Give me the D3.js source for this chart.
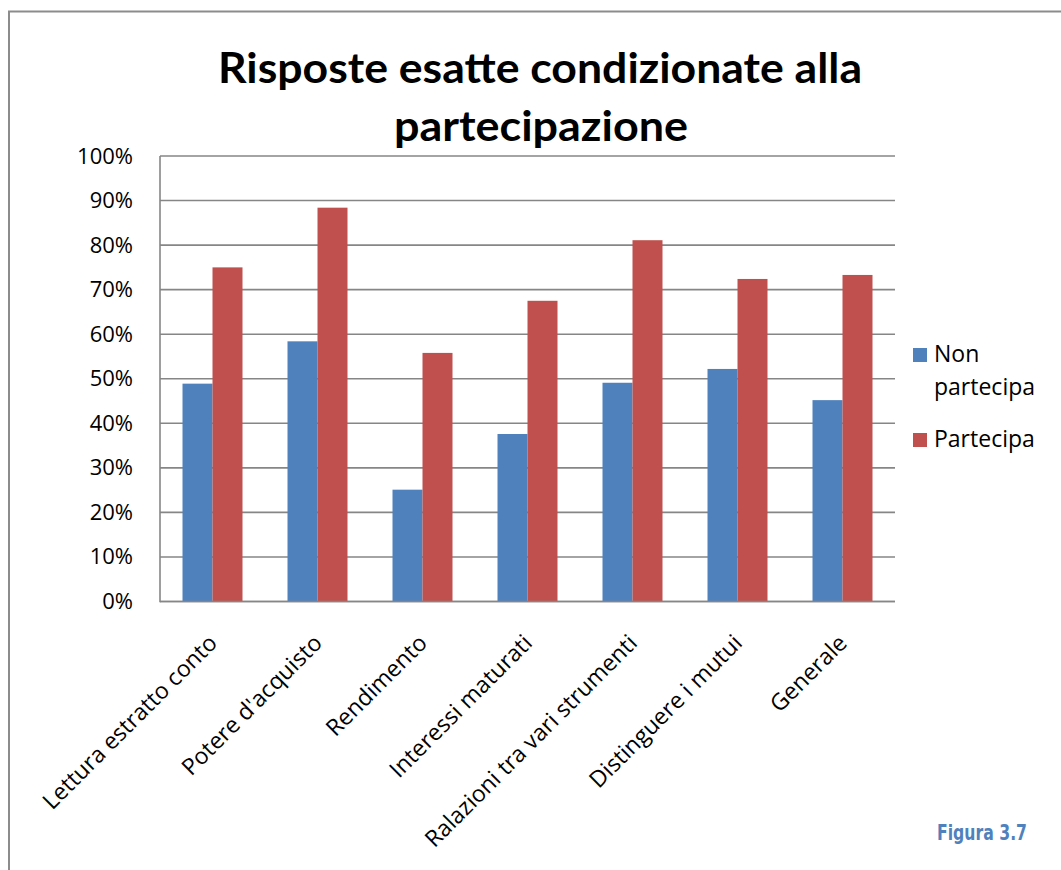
<!DOCTYPE html>
<html>
<head>
<meta charset="utf-8">
<script src="https://cdn.jsdelivr.net/npm/d3@7"></script>
<style>
  html, body { margin: 0; padding: 0; background: #fff; }
  svg { display: block; }
</style>
</head>
<body>
<svg id="chart" width="1061" height="870"></svg>
<script>
// Categories and series values (fractions of 1)
const categories = [
  "Lettura estratto conto",
  "Potere d'acquisto",
  "Rendimento",
  "Interessi maturati",
  "Ralazioni tra vari strumenti",
  "Distinguere i mutui",
  "Generale"
];
const seriesNames = ["Non partecipa", "Partecipa"];
const nonPartecipa = [0.489, 0.584, 0.251, 0.376, 0.491, 0.522, 0.452];
const partecipa    = [0.750, 0.884, 0.558, 0.675, 0.811, 0.724, 0.733];
const yTicks = [0, 0.1, 0.2, 0.3, 0.4, 0.5, 0.6, 0.7, 0.8, 0.9, 1.0];
const titleLines = ["Risposte esatte condizionate alla", "partecipazione"];
const figureLabel = "Figura 3.7";

const colors = ["#4f81bd", "#c0504d"];
const gridColor = "#868686";
const labelFont = "'Open Sans', 'Noto Sans', sans-serif";

const svg = d3.select("#chart");

// Outer frame
svg.append("path")
  .attr("d", "M9,870 V11.5 H1061")
  .attr("fill", "none")
  .attr("stroke", "#8c8c8c")
  .attr("stroke-width", 2);

// Title
const title = svg.append("g").attr("font-family", "Lato, 'Open Sans', sans-serif")
  .attr("font-weight", "bold").attr("fill", "#000");
title.append("text")
  .attr("x", 540).attr("y", 83)
  .attr("text-anchor", "middle")
  .attr("font-size", 42)
  .attr("textLength", 644).attr("lengthAdjust", "spacingAndGlyphs")
  .text(titleLines[0]);
title.append("text")
  .attr("x", 541).attr("y", 141)
  .attr("text-anchor", "middle")
  .attr("font-size", 42)
  .attr("textLength", 294).attr("lengthAdjust", "spacingAndGlyphs")
  .text(titleLines[1]);

// Plot area
const plot = { left: 160, right: 895, top: 156, bottom: 601.5 };

const x = d3.scaleBand()
  .domain(categories)
  .range([plot.left, plot.right])
  .paddingInner(45 / 105)
  .paddingOuter(22.5 / 105);

const xSub = d3.scaleBand()
  .domain(seriesNames)
  .range([0, x.bandwidth()]);

const y = d3.scaleLinear().domain([0, 1]).range([plot.bottom, plot.top]);

// Gridlines
svg.append("g")
  .selectAll("line")
  .data(yTicks)
  .join("line")
  .attr("x1", plot.left).attr("x2", plot.right)
  .attr("y1", d => y(d)).attr("y2", d => y(d))
  .attr("stroke", gridColor)
  .attr("stroke-width", 1.6);

// Bars
const rows = categories.map((c, i) => ({ cat: c, vals: [nonPartecipa[i], partecipa[i]] }));
const groups = svg.append("g")
  .selectAll("g")
  .data(rows)
  .join("g")
  .attr("transform", d => `translate(${x(d.cat)},0)`);

groups.selectAll("rect")
  .data(d => d.vals.map((v, k) => ({ v, k })))
  .join("rect")
  .attr("x", d => xSub(seriesNames[d.k]))
  .attr("width", xSub.bandwidth())
  .attr("y", d => y(d.v))
  .attr("height", d => y(0) - y(d.v))
  .attr("fill", d => colors[d.k]);

// Axis lines
svg.append("line")
  .attr("x1", plot.left).attr("x2", plot.left)
  .attr("y1", plot.top).attr("y2", plot.bottom + 0.8)
  .attr("stroke", gridColor).attr("stroke-width", 1.6);
svg.append("line")
  .attr("x1", plot.left).attr("x2", plot.right)
  .attr("y1", plot.bottom).attr("y2", plot.bottom)
  .attr("stroke", gridColor).attr("stroke-width", 1.6);

// Y axis labels
const yAxis = d3.axisLeft(y)
  .tickValues(yTicks)
  .tickFormat(d3.format(".0%"))
  .tickSize(0)
  .tickPadding(27);
const yg = svg.append("g")
  .attr("transform", `translate(${plot.left},0)`)
  .call(yAxis);
yg.select(".domain").remove();
yg.selectAll("text")
  .attr("font-family", labelFont)
  .attr("font-size", 22)
  .attr("fill", "#000");

// X axis labels, rotated
const xAxis = d3.axisBottom(x).tickSize(0).tickPadding(0);
const xg = svg.append("g")
  .attr("transform", `translate(0,${plot.bottom})`)
  .call(xAxis);
xg.select(".domain").remove();
xg.selectAll("text")
  .attr("font-family", labelFont)
  .attr("font-size", 23)
  .attr("fill", "#000")
  .attr("text-anchor", "end")
  .attr("dy", null)
  .attr("y", 0)
  .attr("transform", "translate(6,43) rotate(-45)");

// Legend
const legend = svg.append("g").attr("font-family", labelFont).attr("font-size", 23);
legend.append("rect").attr("x", 913).attr("y", 348).attr("width", 14).attr("height", 14).attr("fill", colors[0]);
legend.append("text").attr("x", 934).attr("y", 362).text("Non");
legend.append("text").attr("x", 934).attr("y", 395).text("partecipa");
legend.append("rect").attr("x", 913).attr("y", 433).attr("width", 14).attr("height", 14).attr("fill", colors[1]);
legend.append("text").attr("x", 934).attr("y", 447).text(seriesNames[1]);

// Figure label
svg.append("text")
  .attr("x", 937).attr("y", 840)
  .attr("font-family", "'DejaVu Sans Condensed', 'DejaVu Sans', sans-serif")
  .attr("font-weight", "bold")
  .attr("font-size", 22)
  .attr("textLength", 90).attr("lengthAdjust", "spacingAndGlyphs")
  .attr("fill", "#4f81bd")
  .text(figureLabel);
</script>
</body>
</html>
